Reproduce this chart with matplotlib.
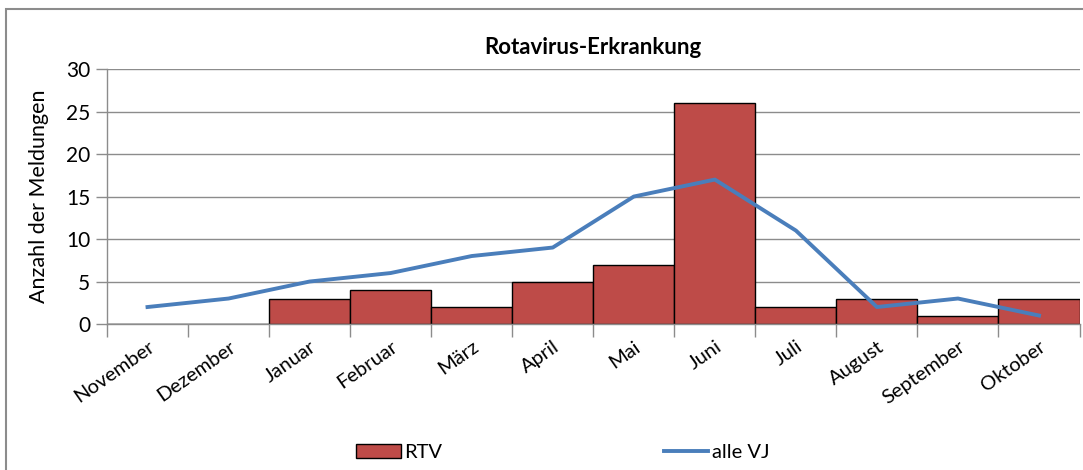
import matplotlib
matplotlib.use("Agg")
import matplotlib.pyplot as plt
from matplotlib.patches import Rectangle
import numpy as np

months = ["November", "Dezember", "Januar", "Februar", "März", "April",
          "Mai", "Juni", "Juli", "August", "September", "Oktober"]
rtv = [0, 0, 3, 4, 2, 5, 7, 26, 2, 3, 1, 3]
alle_vj = [2, 3, 5, 6, 8, 9, 15, 17, 11, 2, 3, 1]
yticks = [0, 5, 10, 15, 20, 25, 30]

plt.rcParams['font.family'] = ['Lato', 'DejaVu Sans']

fig = plt.figure(figsize=(10.83, 4.70), dpi=100)
ax = fig.add_axes([0.0988, 0.3106, 0.898, 0.5424])

x = np.arange(len(months))
bars = ax.bar(x, rtv, width=1.0, color='#BE4B48', edgecolor='black', linewidth=1.0,
              label='RTV', zorder=2)
line, = ax.plot(x, alle_vj, color='#4A7EBB', linewidth=2.8, label='alle VJ', zorder=3)

ax.set_xlim(-0.5, len(months) - 0.5)
ax.set_ylim(0, 30)
ax.set_yticks(yticks)
ax.set_yticklabels([str(v) for v in yticks], fontsize=15)
ax.yaxis.grid(True, color='#8c8c8c', linewidth=1.0, zorder=0)
ax.set_axisbelow(True)

ax.set_xticks(x)
ax.set_xticklabels(months, rotation=35, ha='right', rotation_mode='anchor', fontsize=14.5)
ax.tick_params(axis='x', which='major', length=0, pad=10)
ax.set_xticks(np.arange(-0.5, len(months), 1.0), minor=True)
ax.tick_params(axis='x', which='minor', length=9, color='#8c8c8c', width=1.0)
ax.tick_params(axis='y', length=8, color='#8c8c8c', width=1.0, pad=4)

for s in ['top', 'right']:
    ax.spines[s].set_visible(False)
for s in ['left', 'bottom']:
    ax.spines[s].set_color('#8c8c8c')
    ax.spines[s].set_linewidth(1.0)

ax.set_ylabel('Anzahl der Meldungen', fontsize=15.5, labelpad=12)
ax.set_title('Rotavirus-Erkrankung', fontsize=16, fontweight='bold', pad=11)

fig.legend([bars, line], ['RTV', 'alle VJ'], loc='center', bbox_to_anchor=(0.52, 0.038),
           ncol=2, frameon=False, fontsize=14.5, columnspacing=11.0,
           handlelength=2.2, handletextpad=0.2)

fig.patches.append(Rectangle((6 / 1083, -0.1), 1.2, 1 - 9 / 470 + 0.1,
                             transform=fig.transFigure, fill=False,
                             edgecolor='#8c8c8c', linewidth=1.5))

fig.savefig('out.png', dpi=100)
